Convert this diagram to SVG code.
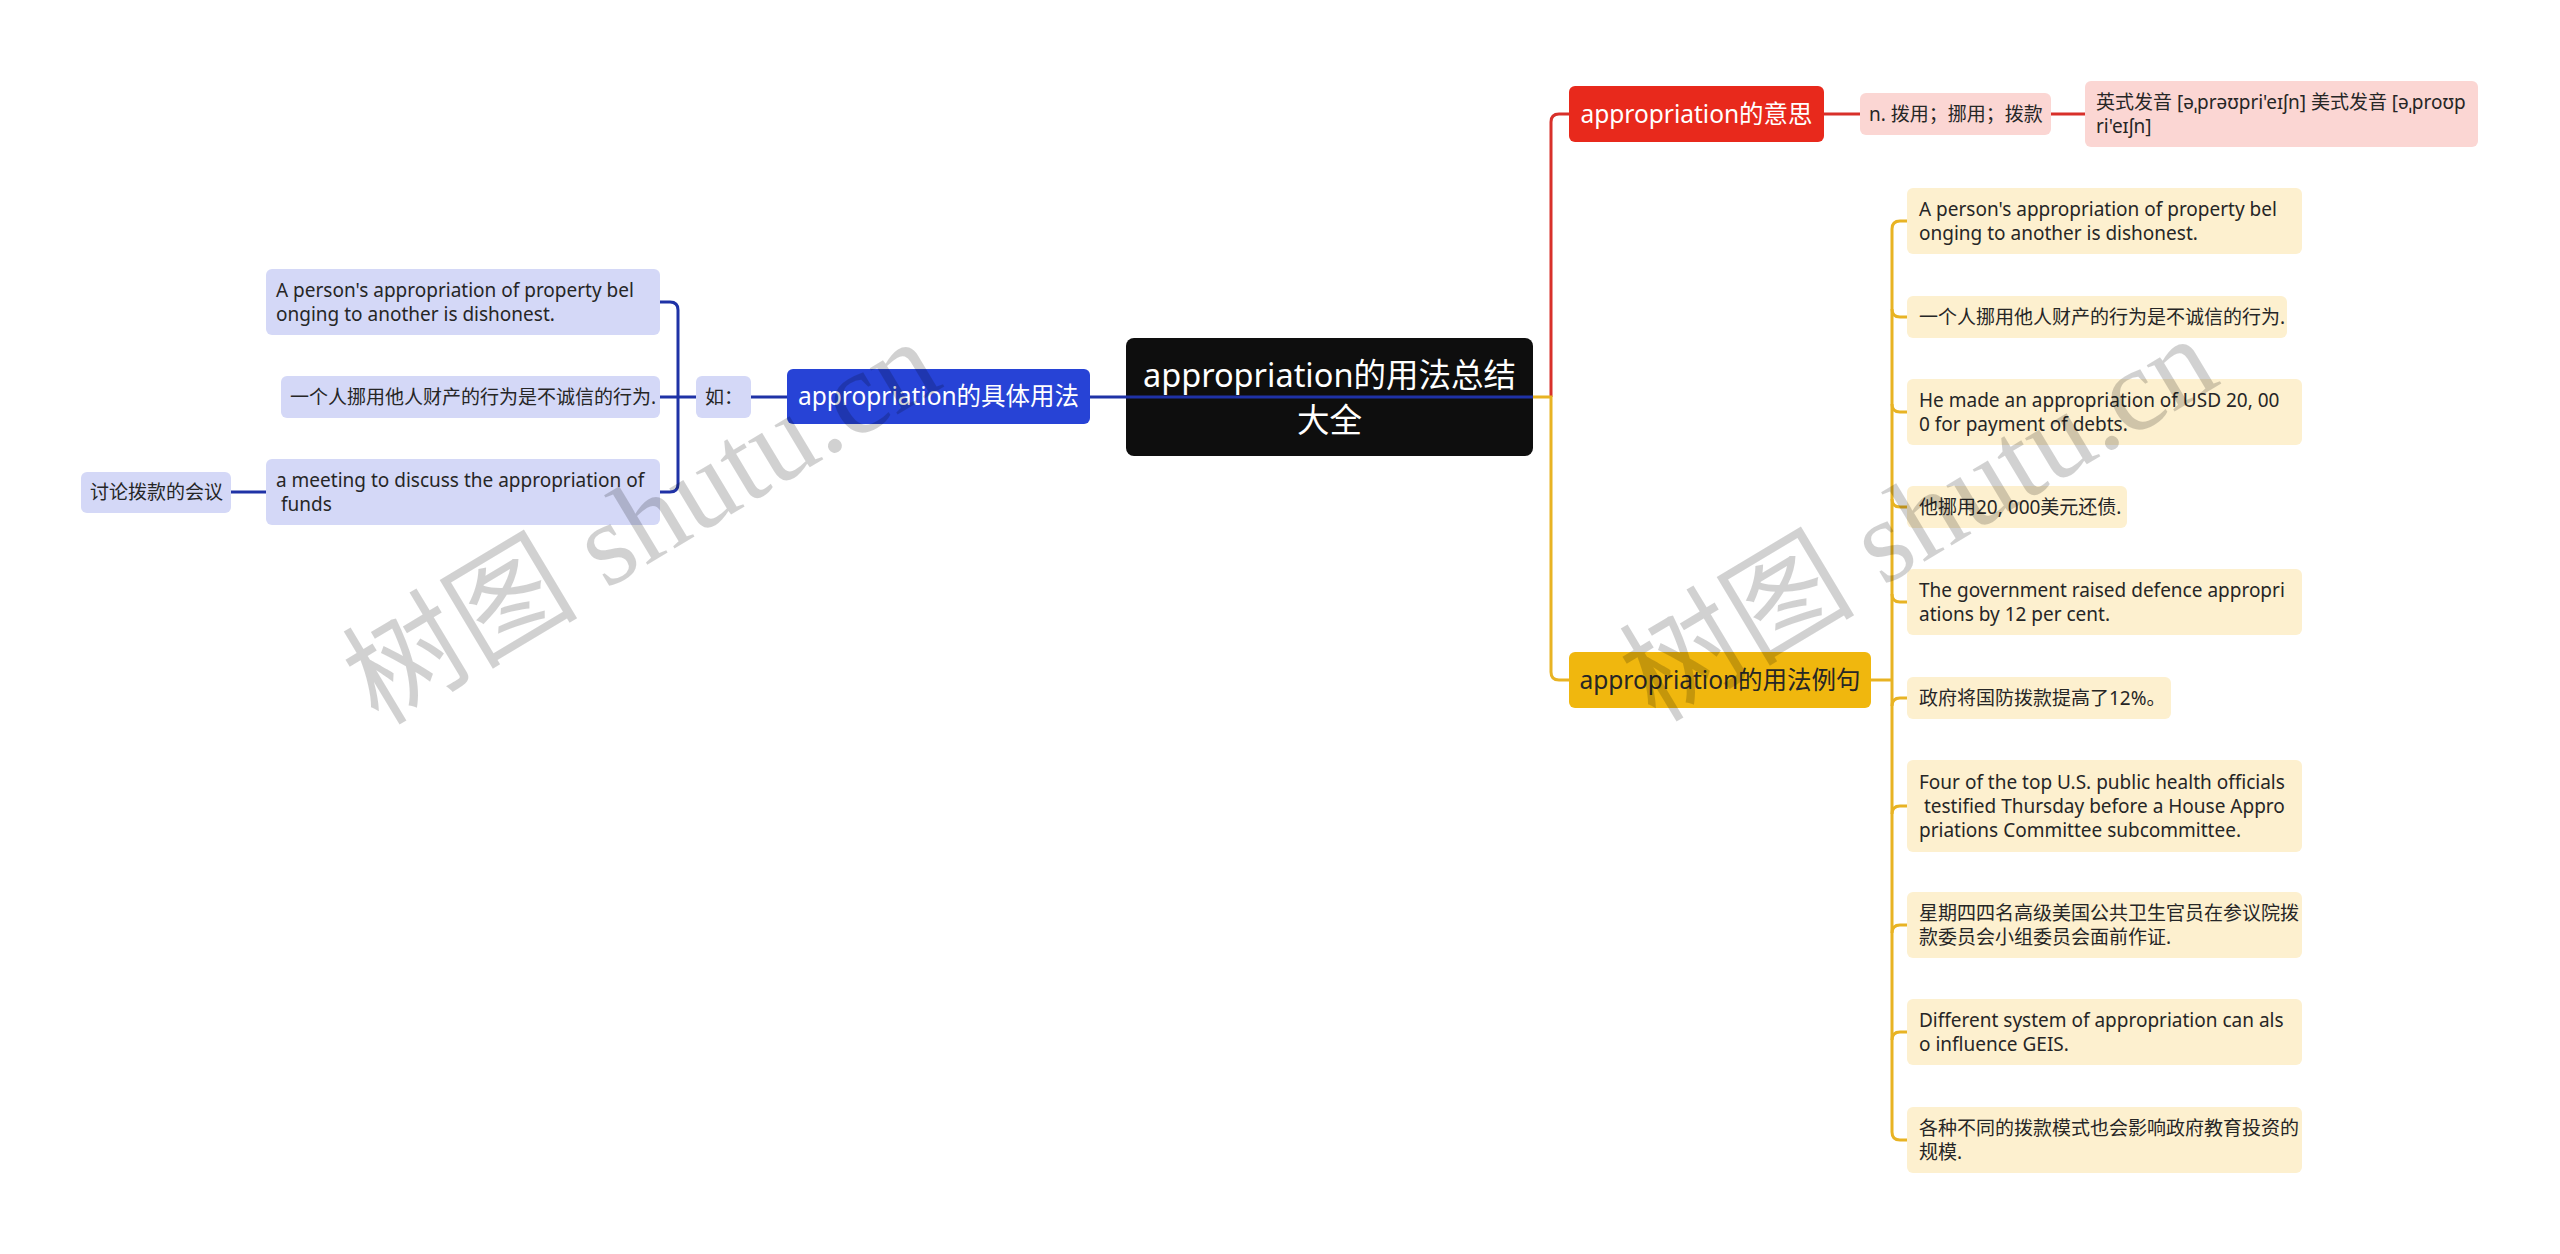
<svg xmlns="http://www.w3.org/2000/svg" width="2560" height="1254" viewBox="0 0 2560 1254">
<style>
text{font-family:"Noto Sans","Noto Sans CJK SC",sans-serif;}
.main{font-size:24.5px;fill:#fff;text-anchor:middle;}
.root{font-size:32.5px;fill:#fff;text-anchor:middle;}
.leaf{font-size:19px;fill:#262626;white-space:pre;}
.yl{fill:#fdf0cf;}
.bl{fill:#d4d8f7;}
.pk{fill:#fbd6d3;}
.cy{fill:none;stroke:#e8b323;stroke-width:3;}
.cr{fill:none;stroke:#d8302a;stroke-width:3;}
.cb{fill:none;stroke:#1f32a6;stroke-width:3;}
.wm{font-family:"Liberation Serif","Noto Sans CJK SC",serif;font-size:118px;fill:#000;fill-opacity:0.18;text-anchor:middle;}
</style>
<rect width="2560" height="1254" fill="#fff"/>

<g id="root">
<rect x="1126" y="338" width="407" height="118" rx="8" fill="#0e0e0e"/>
<text class="root" x="1329.5" y="387">appropriation的用法总结</text>
<text class="root" x="1329.5" y="432">大全</text>
</g>

<g id="connectors">
<path class="cr" d="M1551,397 V122 Q1551,114 1559,114 H1569"/>
<path class="cy" d="M1533,397 H1551 V672 Q1551,680 1559,680 H1569"/>
<path class="cr" d="M1824,114 H1860 M2051,114 H2085"/>
<path class="cy" d="M1871,680 H1892"/>
<path class="cy" d="M1907,221 H1900 Q1892,221 1892,229 V1132 Q1892,1140 1900,1140 H1907"/>
<path class="cy" d="M1892,309 Q1892,317 1900,317 H1907 M1892,404 Q1892,412 1900,412 H1907 M1892,499 Q1892,507 1900,507 H1907 M1892,594 Q1892,602 1900,602 H1907 M1892,706 Q1892,698 1900,698 H1907 M1892,814 Q1892,806 1900,806 H1907 M1892,933 Q1892,925 1900,925 H1907 M1892,1040 Q1892,1032 1900,1032 H1907"/>
<path class="cb" d="M1533,397 H1090 M787,397 H751 M696,397 H660"/>
<path class="cb" d="M660,302 H670 Q678,302 678,310 V484 Q678,492 670,492 H660 M266,492 H231"/>
</g>

<g id="n-meaning">
<rect x="1569" y="86" width="255" height="56" rx="6" fill="#e8291c"/>
<text class="main" x="1696.5" y="122.5">appropriation的意思</text>
</g>
<g id="n-meaning-1">
<rect class="pk" x="1860" y="93" width="191" height="42" rx="6"/>
<text class="leaf" x="1869" y="121">n. 拨用；挪用；拨款</text>
</g>
<g id="n-meaning-2">
<rect class="pk" x="2085" y="81" width="393" height="66" rx="6"/>
<text class="leaf" x="2096" y="109">英式发音 [əˌprəʊpri'eɪʃn] 美式发音 [əˌproʊp</text>
<text class="leaf" x="2096" y="133">ri'eɪʃn]</text>
</g>

<g id="n-examples">
<rect x="1569" y="652" width="302" height="56" rx="6" fill="#f0b70e"/>
<text class="main" x="1720" y="688.5" style="fill:#262626">appropriation的用法例句</text>
</g>
<g id="ex1">
<rect class="yl" x="1907" y="188" width="395" height="66" rx="6"/>
<text class="leaf" x="1919" y="216">A person's appropriation of property bel</text>
<text class="leaf" x="1919" y="240">onging to another is dishonest.</text>
</g>
<g id="ex2">
<rect class="yl" x="1907" y="296" width="380" height="42" rx="6"/>
<text class="leaf" x="1919" y="324">一个人挪用他人财产的行为是不诚信的行为.</text>
</g>
<g id="ex3">
<rect class="yl" x="1907" y="379" width="395" height="66" rx="6"/>
<text class="leaf" x="1919" y="407">He made an appropriation of USD 20, 00</text>
<text class="leaf" x="1919" y="431">0 for payment of debts.</text>
</g>
<g id="ex4">
<rect class="yl" x="1907" y="486" width="220" height="42" rx="6"/>
<text class="leaf" x="1919" y="514">他挪用20, 000美元还债.</text>
</g>
<g id="ex5">
<rect class="yl" x="1907" y="569" width="395" height="66" rx="6"/>
<text class="leaf" x="1919" y="597">The government raised defence appropri</text>
<text class="leaf" x="1919" y="621">ations by 12 per cent.</text>
</g>
<g id="ex6">
<rect class="yl" x="1907" y="677" width="264" height="42" rx="6"/>
<text class="leaf" x="1919" y="705">政府将国防拨款提高了12%。</text>
</g>
<g id="ex7">
<rect class="yl" x="1907" y="760" width="395" height="92" rx="6"/>
<text class="leaf" x="1919" y="789">Four of the top U.S. public health officials</text>
<text class="leaf" x="1919" y="813"> testified Thursday before a House Appro</text>
<text class="leaf" x="1919" y="837">priations Committee subcommittee.</text>
</g>
<g id="ex8">
<rect class="yl" x="1907" y="892" width="395" height="66" rx="6"/>
<text class="leaf" x="1919" y="920">星期四四名高级美国公共卫生官员在参议院拨</text>
<text class="leaf" x="1919" y="944">款委员会小组委员会面前作证.</text>
</g>
<g id="ex9">
<rect class="yl" x="1907" y="999" width="395" height="66" rx="6"/>
<text class="leaf" x="1919" y="1027">Different system of appropriation can als</text>
<text class="leaf" x="1919" y="1051">o influence GEIS.</text>
</g>
<g id="ex10">
<rect class="yl" x="1907" y="1107" width="395" height="66" rx="6"/>
<text class="leaf" x="1919" y="1135">各种不同的拨款模式也会影响政府教育投资的</text>
<text class="leaf" x="1919" y="1159">规模.</text>
</g>

<g id="n-usage">
<rect x="787" y="369" width="303" height="55" rx="6" fill="#2743d6"/>
<text class="main" x="938.5" y="405">appropriation的具体用法</text>
</g>
<g id="n-ru">
<rect class="bl" x="696" y="376" width="55" height="42" rx="6"/>
<text class="leaf" x="705" y="404">如：</text>
</g>
<g id="u1">
<rect class="bl" x="266" y="269" width="394" height="66" rx="6"/>
<text class="leaf" x="276" y="297">A person's appropriation of property bel</text>
<text class="leaf" x="276" y="321">onging to another is dishonest.</text>
</g>
<g id="u2">
<rect class="bl" x="281" y="376" width="379" height="42" rx="6"/>
<text class="leaf" x="290" y="404">一个人挪用他人财产的行为是不诚信的行为.</text>
</g>
<g id="u3">
<rect class="bl" x="266" y="459" width="394" height="66" rx="6"/>
<text class="leaf" x="276" y="487">a meeting to discuss the appropriation of</text>
<text class="leaf" x="276" y="511"> funds</text>
</g>
<g id="u3-1">
<rect class="bl" x="81" y="472" width="150" height="41" rx="6"/>
<text class="leaf" x="90" y="499">讨论拨款的会议</text>
</g>

<g id="watermarks">
<text class="wm" transform="translate(662,556) rotate(-31)">树图 shutu.cn</text>
<text class="wm" transform="translate(1939,553) rotate(-31)">树图 shutu.cn</text>
</g>
</svg>
